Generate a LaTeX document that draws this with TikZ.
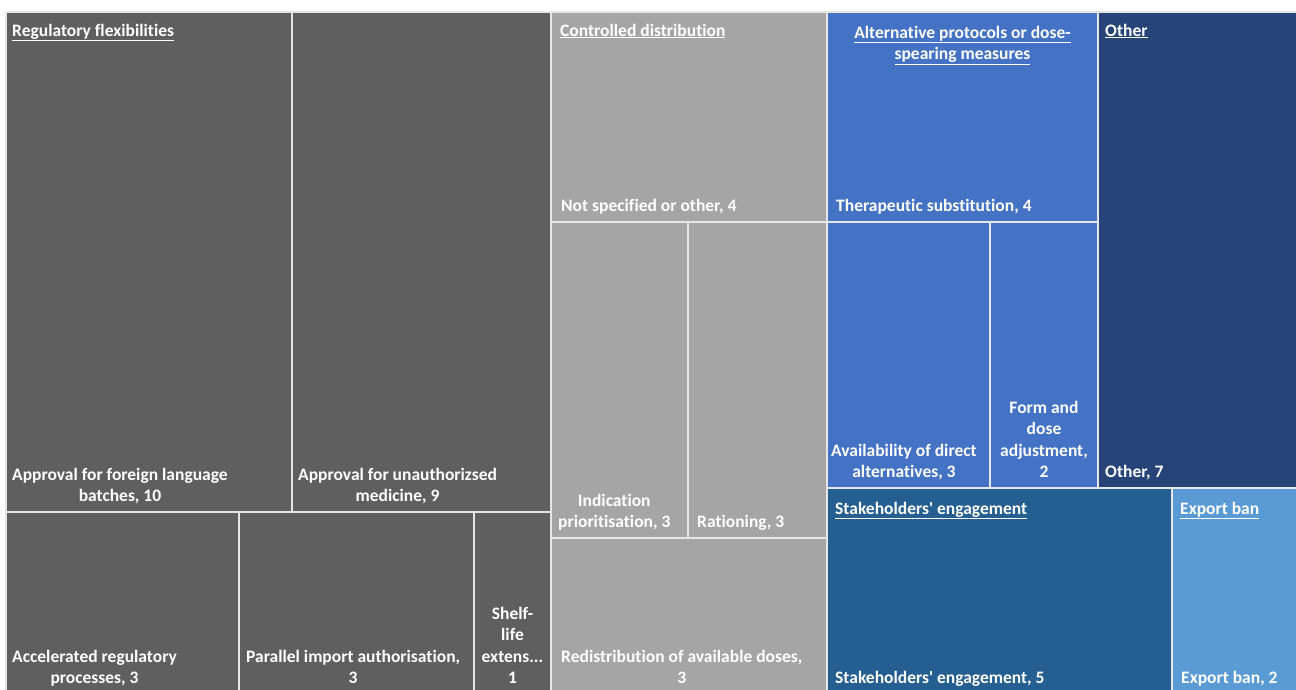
\documentclass[tikz,border=0pt]{standalone}
\usepackage{fontspec}
\setmainfont{Carlito}[Ligatures={TeXOff,NoCommon}]
\definecolor{cRegul}{HTML}{5F5F5F}
\definecolor{cContr}{HTML}{A5A5A5}
\definecolor{cAlter}{HTML}{4472C4}
\definecolor{cOther}{HTML}{264478}
\definecolor{cStake}{HTML}{255E91}
\definecolor{cExport}{HTML}{5B9BD5}
\definecolor{cLine}{HTML}{E6E6E6}
\tikzset{
  cell/.style={draw=cLine, line width=1.5pt},
  txt/.style={text=white, font=\bfseries\fontsize{17.5}{21.5}\selectfont, inner sep=0pt, align=center},
  hdr/.style={txt, anchor=base west},
  leaf/.style={txt, anchor=south west, text depth=0pt},
  leafc/.style={txt, anchor=south, text depth=0pt},
}
\newcommand{\ul}[1]{\underline{#1}}
\begin{document}
\begin{tikzpicture}[x=1pt,y=-1pt]
\clip (0,0) rectangle (1296,689);
\fill[white] (0,0) rectangle (1296,689);
% Regulatory flexibilities
\filldraw[cell, fill=cRegul] (6,12) rectangle (292,512);
\filldraw[cell, fill=cRegul] (292,12) rectangle (551,512);
\filldraw[cell, fill=cRegul] (6,512) rectangle (239,700);
\filldraw[cell, fill=cRegul] (239,512) rectangle (474,700);
\filldraw[cell, fill=cRegul] (474,512) rectangle (551,700);
% Controlled distribution
\filldraw[cell, fill=cContr] (551,12) rectangle (827,222);
\filldraw[cell, fill=cContr] (551,222) rectangle (688,538);
\filldraw[cell, fill=cContr] (688,222) rectangle (827,538);
\filldraw[cell, fill=cContr] (551,538) rectangle (827,700);
% Alternative protocols
\filldraw[cell, fill=cAlter] (827,12) rectangle (1098,222);
\filldraw[cell, fill=cAlter] (827,222) rectangle (990,488);
\filldraw[cell, fill=cAlter] (990,222) rectangle (1098,488);
% Other
\filldraw[cell, fill=cOther] (1098,12) rectangle (1310,488);
% Stakeholders / Export ban
\filldraw[cell, fill=cStake] (827,488) rectangle (1172,700);
\filldraw[cell, fill=cExport] (1172,488) rectangle (1310,700);
% white margins
\fill[white] (0,0) rectangle (1296,11.2);
\fill[white] (0,0) rectangle (5.2,689);

% headers
\node[hdr] (hRF) at (12,36) {\ul{Regulatory flexibilities}};
\node[hdr] (hCD) at (560,36) {\ul{Controlled distribution}};
\node[txt, anchor=south, text depth=0pt] (hAP) at (962.5,60) {\ul{Alternative protocols or dose-}\\\ul{spearing measures}};
\node[hdr] (hOT) at (1105,36) {\ul{Other}};
\node[hdr] (hSE) at (835,514) {\ul{Stakeholders' engagement}};
\node[hdr] (hEB) at (1180,514) {\ul{Export ban}};

% leaves
\node[leaf] (lAF) at (12,502) {Approval for foreign language\\batches, 10};
\node[leaf] (lAU) at (298,502) {Approval for unauthorizsed\\medicine, 9};
\node[leaf] (lAR) at (12,684) {Accelerated regulatory\\processes, 3};
\node[leaf] (lPI) at (246,684) {Parallel import authorisation,\\3};
\node[leafc] (lSL) at (512.5,684) {Shelf-\\life\\extens...\\1};
\node[leaf] (lNS) at (561,212) {Not specified or other, 4};
\node[leaf] (lIP) at (558,528) {Indication\\prioritisation, 3};
\node[leaf] (lRA) at (697,528) {Rationing, 3};
\node[leaf] (lRD) at (561,684) {Redistribution of available doses,\\3};
\node[leaf] (lTS) at (836,212) {Therapeutic substitution, 4};
\node[leaf] (lAD) at (831,478) {Availability of direct\\alternatives, 3};
\node[leafc] (lFD) at (1044,478) {Form and\\dose\\adjustment,\\2};
\node[leaf] (lOT) at (1105,478) {Other, 7};
\node[leaf] (lSE) at (835,684) {Stakeholders' engagement, 5};
\node[leaf] (lEB) at (1181,684) {Export ban, 2};
\end{tikzpicture}
\end{document}
